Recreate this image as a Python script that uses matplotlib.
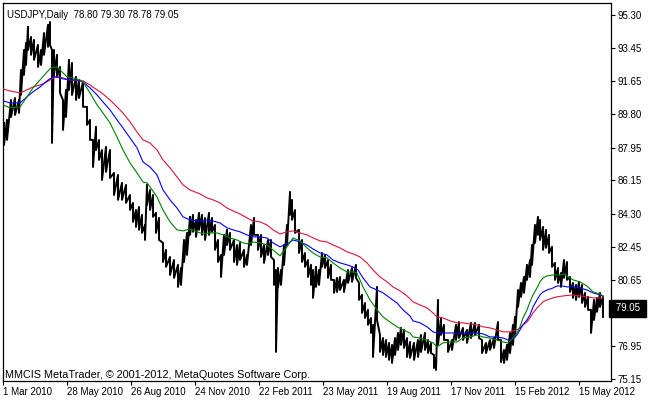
import numpy as np
import matplotlib
matplotlib.use("Agg")
import matplotlib.pyplot as plt
from matplotlib.transforms import blended_transform_factory

# USDJPY daily, sampled bars (bar number from 1 Mar 2010)
bar_x = [1, 4, 8, 12, 16, 18, 21, 23, 25, 28, 31, 35, 38, 41, 45, 47, 49, 51, 54, 57,
         60, 63, 66, 69, 73, 76, 80, 84, 87, 90, 93, 96, 99, 103, 107, 111, 115, 119, 123, 127,
         130, 133, 136, 139, 142, 144, 147, 150, 153, 156, 160, 163, 167, 171, 175, 178, 181, 184, 187, 190,
         193, 196, 199, 202, 206, 209, 212, 215, 218, 221, 224, 227, 231, 234, 237, 241, 244, 248, 251, 255,
         258, 261, 265, 268, 271, 273, 275, 278, 281, 284, 287, 289, 292, 296, 299, 302, 305, 308, 310, 313,
         316, 319, 322, 325, 328, 331, 334, 337, 341, 345, 349, 353, 356, 359, 362, 365, 368, 370, 374, 377,
         380, 383, 386, 389, 392, 395, 398, 401, 404, 407, 411, 415, 418, 422, 425, 428, 431, 433, 435, 438,
         441, 445, 449, 453, 456, 460, 464, 468, 472, 476, 479, 483, 487, 491, 495, 498, 501, 504, 507, 510,
         512, 515, 518, 521, 524, 527, 529, 532, 535, 537, 540, 543, 546, 549, 552, 555, 558, 561, 564, 567,
         570, 573, 576, 579, 582, 585, 588, 591, 594, 597, 600]
bar_hi = [89.32, 89.49, 90.59, 90.70, 90.59, 92.25, 93.36, 93.75, 94.64, 94.08, 93.92, 93.64, 93.36, 94.30, 94.75, 94.91, 93.36, 93.36, 93.09, 92.42,
          90.59, 91.15, 92.81, 92.64, 91.87, 91.70, 91.59, 90.21, 89.49, 88.38, 89.10, 88.38, 87.82, 87.99, 87.82, 86.55, 86.44, 86.00, 85.89, 85.33,
          84.89, 84.50, 84.67, 84.23, 83.67, 85.89, 85.61, 85.33, 84.34, 84.06, 82.68, 82.29, 81.90, 81.73, 81.46, 81.29, 82.84, 83.23, 84.12, 84.23,
          83.95, 84.34, 84.23, 84.06, 84.34, 84.06, 83.67, 82.84, 82.01, 83.12, 83.40, 83.23, 82.84, 82.56, 82.68, 82.29, 82.01, 83.67, 84.06, 83.12,
          83.12, 82.56, 82.84, 82.84, 81.73, 81.18, 81.29, 81.18, 82.56, 83.67, 85.50, 85.06, 84.50, 83.40, 82.84, 82.12, 81.73, 81.46, 81.18, 81.35,
          81.18, 82.12, 82.01, 81.73, 81.46, 80.63, 80.74, 80.79, 80.63, 81.18, 81.29, 81.46, 80.46, 79.80, 79.35, 78.97, 78.52, 78.14, 80.24, 77.58,
          77.41, 77.30, 77.14, 77.03, 77.41, 77.69, 77.97, 77.86, 77.41, 77.19, 77.14, 77.30, 77.58, 77.69, 77.30, 77.14, 76.47, 76.31, 79.52, 78.52,
          78.14, 77.30, 77.30, 78.14, 78.30, 77.97, 77.86, 78.25, 78.25, 78.14, 77.30, 77.14, 77.30, 77.41, 78.30, 77.30, 76.75, 77.03, 77.69, 78.14,
          78.58, 80.07, 80.46, 80.79, 81.46, 81.73, 82.56, 83.67, 84.12, 83.95, 83.56, 83.40, 83.12, 82.46, 81.57, 81.29, 81.01, 81.73, 81.62, 80.79,
          80.46, 80.35, 80.52, 80.35, 79.91, 79.69, 78.97, 79.52, 79.63, 79.91, 79.69]
bar_lo = [88.10, 88.38, 89.65, 89.76, 89.87, 90.87, 91.98, 92.53, 93.36, 93.09, 92.81, 92.42, 92.53, 93.09, 93.53, 93.64, 88.21, 91.98, 91.87, 90.98,
          88.93, 89.65, 91.15, 90.87, 90.59, 90.70, 90.21, 89.21, 88.38, 86.88, 87.82, 87.27, 86.16, 86.61, 86.27, 85.33, 85.06, 85.06, 84.89, 84.50,
          83.84, 83.56, 83.40, 83.23, 82.84, 84.78, 84.50, 84.12, 83.23, 82.84, 81.62, 81.35, 80.90, 80.74, 80.24, 80.35, 81.62, 82.01, 83.12, 83.29,
          83.01, 83.40, 83.12, 82.84, 83.12, 83.29, 82.29, 81.62, 80.79, 82.01, 82.56, 82.29, 81.62, 81.46, 81.73, 81.35, 81.46, 82.56, 83.12, 82.29,
          81.90, 81.57, 82.01, 81.90, 80.35, 76.64, 80.24, 80.35, 81.46, 82.56, 84.23, 83.95, 83.23, 82.12, 81.62, 81.35, 80.79, 80.35, 79.63, 80.24,
          80.35, 81.35, 81.29, 80.74, 80.63, 79.91, 79.96, 80.07, 79.96, 80.46, 80.52, 80.74, 79.52, 78.80, 78.52, 78.14, 77.69, 76.36, 78.41, 76.64,
          76.47, 76.36, 76.20, 76.03, 76.47, 76.75, 77.03, 76.86, 76.36, 76.31, 76.20, 76.36, 76.64, 76.75, 76.58, 76.58, 75.75, 75.64, 77.03, 77.58,
          77.30, 76.64, 76.75, 77.30, 77.41, 77.30, 77.14, 77.41, 77.58, 77.41, 76.58, 76.58, 76.75, 76.86, 77.30, 76.08, 76.03, 76.20, 76.58, 77.03,
          77.47, 79.13, 79.69, 79.91, 80.63, 80.79, 81.46, 82.68, 83.12, 82.84, 82.29, 82.40, 82.12, 81.35, 80.63, 80.46, 80.24, 80.74, 80.63, 79.96,
          79.63, 79.52, 79.69, 79.35, 79.13, 78.97, 77.69, 78.41, 78.86, 79.13, 78.58]

# moving averages
green_x = [0, 7, 17, 24, 30, 37, 44, 48, 54, 59, 64, 70, 77, 80, 87, 94, 100, 107, 114, 120,
           127, 134, 140, 144, 147, 154, 160, 167, 174, 180, 187, 194, 200, 207, 214, 220, 227, 234, 240, 245,
           250, 257, 264, 270, 277, 284, 290, 297, 304, 310, 317, 324, 330, 337, 344, 350, 354, 360, 367, 374,
           380, 387, 394, 400, 407, 410, 417, 424, 430, 434, 440, 447, 454, 460, 467, 474, 480, 487, 494, 500,
           505, 510, 514, 517, 520, 524, 527, 530, 534, 537, 540, 544, 550, 557, 560, 564, 570, 577, 584, 590,
           597, 600]
green_y = [90.32, 90.15, 90.21, 90.76, 91.26, 91.70, 92.14, 92.37, 92.42, 92.14, 91.87, 91.81, 91.70, 91.59, 90.98, 90.32, 89.87, 89.32, 88.54, 87.82,
           87.11, 86.55, 86.05, 86.00, 85.78, 85.22, 84.50, 83.84, 83.40, 83.34, 83.45, 83.29, 83.17, 83.23, 83.23, 83.12, 82.95, 82.84, 82.68, 82.62,
           82.73, 82.68, 82.56, 82.29, 81.96, 82.46, 82.95, 82.79, 82.40, 82.12, 81.90, 81.85, 81.57, 81.29, 81.07, 81.07, 81.01, 80.24, 79.52, 78.97,
           78.58, 78.30, 78.03, 77.86, 77.69, 77.47, 77.41, 77.30, 77.14, 76.92, 77.14, 77.19, 77.19, 77.41, 77.47, 77.58, 77.47, 77.41, 77.30, 77.19,
           77.14, 77.41, 77.69, 78.03, 78.52, 78.97, 79.41, 79.80, 80.18, 80.52, 80.74, 80.85, 80.90, 80.90, 80.96, 80.85, 80.63, 80.52, 80.29, 79.96,
           79.85, 79.74]
blue_x = [0, 7, 17, 24, 30, 37, 44, 50, 54, 60, 67, 74, 80, 87, 94, 100, 107, 114, 120, 127,
          134, 140, 147, 154, 160, 167, 174, 180, 187, 197, 204, 210, 217, 224, 230, 237, 244, 250, 257, 264,
          270, 277, 284, 290, 297, 304, 310, 317, 324, 330, 337, 344, 350, 355, 360, 367, 374, 380, 387, 394,
          400, 407, 410, 417, 424, 430, 434, 447, 460, 474, 480, 487, 494, 500, 505, 510, 514, 517, 520, 524,
          527, 530, 534, 537, 540, 544, 550, 554, 560, 564, 570, 577, 584, 590, 597, 600]
blue_y = [90.54, 90.43, 90.43, 90.76, 91.04, 91.31, 91.65, 91.87, 91.87, 91.76, 91.70, 91.70, 91.59, 91.26, 90.87, 90.48, 90.04, 89.49, 89.04, 88.49,
          87.94, 87.16, 86.88, 86.44, 85.61, 85.06, 84.61, 84.12, 83.95, 83.89, 83.95, 83.89, 83.78, 83.51, 83.40, 83.29, 83.12, 83.01, 83.01, 82.95,
          82.68, 82.46, 82.62, 82.84, 82.73, 82.56, 82.34, 82.12, 82.01, 81.73, 81.57, 81.46, 81.35, 81.18, 80.74, 80.24, 80.07, 79.91, 79.63, 79.35,
          78.97, 78.63, 78.36, 78.25, 78.03, 77.75, 77.69, 77.69, 77.69, 77.69, 77.64, 77.47, 77.47, 77.41, 77.30, 77.36, 77.58, 77.86, 78.14, 78.41,
          78.69, 79.13, 79.52, 79.80, 79.96, 80.07, 80.18, 80.29, 80.29, 80.24, 80.24, 80.18, 80.07, 79.91, 79.80, 79.74]
red_x = [0, 7, 17, 24, 30, 37, 44, 50, 54, 60, 67, 74, 80, 87, 94, 100, 107, 114, 120, 127,
         134, 140, 147, 154, 160, 167, 174, 180, 187, 197, 204, 210, 217, 224, 230, 237, 244, 250, 257, 264,
         270, 277, 284, 290, 297, 304, 310, 317, 324, 330, 337, 344, 350, 357, 364, 370, 377, 384, 390, 397,
         404, 410, 417, 424, 430, 434, 440, 447, 454, 460, 467, 474, 480, 487, 494, 500, 507, 514, 517, 520,
         524, 527, 530, 534, 537, 540, 544, 550, 554, 560, 570, 577, 584, 590, 600]
red_y = [91.20, 91.09, 90.98, 91.15, 91.31, 91.42, 91.59, 91.81, 91.87, 91.81, 91.70, 91.65, 91.65, 91.42, 91.15, 90.93, 90.59, 90.21, 89.87, 89.38,
         88.82, 88.38, 88.21, 87.82, 87.27, 86.83, 86.33, 85.89, 85.61, 85.39, 85.17, 85.06, 84.89, 84.61, 84.45, 84.28, 84.06, 83.89, 83.84, 83.67,
         83.40, 83.17, 83.29, 83.34, 83.23, 83.12, 82.95, 82.79, 82.73, 82.56, 82.40, 82.18, 82.07, 81.90, 81.57, 81.18, 80.79, 80.52, 80.24, 80.02,
         79.74, 79.41, 79.24, 79.08, 78.80, 78.58, 78.52, 78.36, 78.25, 78.25, 78.19, 78.14, 78.03, 77.97, 77.86, 77.75, 77.75, 77.86, 77.97, 78.14,
         78.30, 78.52, 78.80, 79.08, 79.24, 79.41, 79.52, 79.63, 79.69, 79.74, 79.80, 79.74, 79.69, 79.63, 79.63]

date_pos = [0, 64, 128, 192, 256, 320, 384, 448, 512, 576]
date_labels = ["1 Mar 2010", "28 May 2010", "26 Aug 2010", "24 Nov 2010", "22 Feb 2011",
               "23 May 2011", "19 Aug 2011", "17 Nov 2011", "15 Feb 2012", "15 May 2012"]
price_ticks = [95.30, 93.45, 91.65, 89.80, 87.95, 86.15, 84.30, 82.45, 80.65, 78.80, 76.95, 75.15]
last_price = 79.05
header = "USDJPY,Daily  78.80 79.30 78.78 79.05"
footer = "MMCIS MetaTrader, \u00a9 2001-2012, MetaQuotes Software Corp."

plt.rcParams['font.family'] = ['Liberation Sans', 'DejaVu Sans']

fig = plt.figure(figsize=(6.5, 4), dpi=100)
ax = fig.add_axes([3 / 650, 19 / 400, 608 / 650, 378 / 400])

# price bars drawn as a zigzag through each sample's high and low
px = np.repeat(bar_x, 2)
py = np.column_stack([bar_hi, bar_lo]).ravel()
ax.plot(px, py, color='black', lw=1.4, zorder=2)

ax.plot(red_x, red_y, color='#DC143C', lw=0.8, zorder=3)
ax.plot(blue_x, blue_y, color='#0000FF', lw=0.8, zorder=3)
ax.plot(green_x, green_y, color='#008000', lw=0.8, zorder=3)

ax.set_xlim(0, 608)
ax.set_ylim(75.03, 95.96)

ax.yaxis.tick_right()
ax.set_yticks(price_ticks)
ax.set_yticklabels(["%.2f" % v for v in price_ticks])
ax.set_xticks(date_pos)
ax.set_xticklabels(date_labels, ha='left')
ax.tick_params(axis='both', direction='out', length=3, width=0.8, labelsize=7, pad=1.5)
for s in ax.spines.values():
    s.set_linewidth(0.9)

# last price marker covers the 78.80 label, as in the terminal
tr = blended_transform_factory(ax.transAxes, ax.transData)
ax.text(1.003, last_price, " %.2f " % last_price, transform=tr, color='white', fontsize=7,
        va='center', ha='left',
        bbox=dict(boxstyle='square,pad=0.35', fc='black', ec='black'), zorder=5)

fig.text(7 / 650, 1 - 15 / 400, header, fontsize=7, va='center', ha='left')
fig.text(5 / 650, 1 - 375 / 400, footer, fontsize=7.8, va='center', ha='left')

fig.savefig("out.png", dpi=100)
